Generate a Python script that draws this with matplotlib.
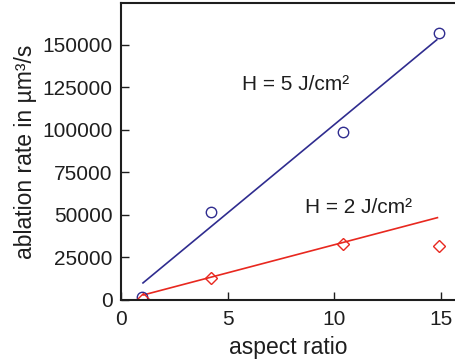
import matplotlib
matplotlib.use("Agg")
import matplotlib.pyplot as plt

plt.rcParams['font.family'] = ['Liberation Sans', 'DejaVu Sans']

# Measured ablation rates
aspect_5 = [0.97, 4.2, 10.4, 14.9]
rate_5 = [1900, 52000, 98500, 157000]
aspect_2 = [1.05, 4.2, 10.4, 14.9]
rate_2 = [400, 12800, 33000, 31800]

# Linear trend lines (end points)
fit_x_5 = [1.03, 14.8]
fit_y_5 = [10000, 153000]
fit_x_2 = [1.04, 14.83]
fit_y_2 = [2900, 48400]

xticks = [0, 5, 10, 15]
yticks = [0, 25000, 50000, 75000, 100000, 125000, 150000]

blue = '#2f2c8f'
red = '#e8281f'
ink = '#1e1e1e'

fig = plt.figure(figsize=(4.56, 3.64), dpi=100)
ax = fig.add_axes([121 / 456, 0.176, 335 / 456, 0.816])

ax.plot(fit_x_5, fit_y_5, color=blue, lw=1.2)
ax.plot(fit_x_2, fit_y_2, color=red, lw=1.2)
ax.plot(aspect_5, rate_5, 'o', mfc='none', mec=blue, ms=7.5, mew=1.0)
ax.plot(aspect_2, rate_2, 'D', mfc='none', mec=red, ms=6.2, mew=1.0)

ax.text(5.65, 126500, 'H = 5 J/cm²', fontsize=15, va='center', ha='left', color=ink)
ax.text(8.6, 54100, 'H = 2 J/cm²', fontsize=15, va='center', ha='left', color=ink)

ax.set_xlim(0, 15.7)
ax.set_ylim(0, 174700)
ax.set_xticks(xticks)
ax.set_yticks(yticks)
ax.tick_params(direction='in', length=6, width=1.0, labelsize=15, colors=ink,
               top=False, right=False)
ax.tick_params(axis='x', pad=7)
ax.tick_params(axis='y', pad=6)
for s in ['left', 'bottom', 'top']:
    ax.spines[s].set_linewidth(1.5)
    ax.spines[s].set_color(ink)
ax.spines['right'].set_visible(False)

ax.set_xlabel('aspect ratio', fontsize=16.5, color=ink, labelpad=5)
ax.set_ylabel('ablation rate in µm³/s', fontsize=16.5, color=ink, labelpad=4)

fig.savefig('out.png', dpi=100)
